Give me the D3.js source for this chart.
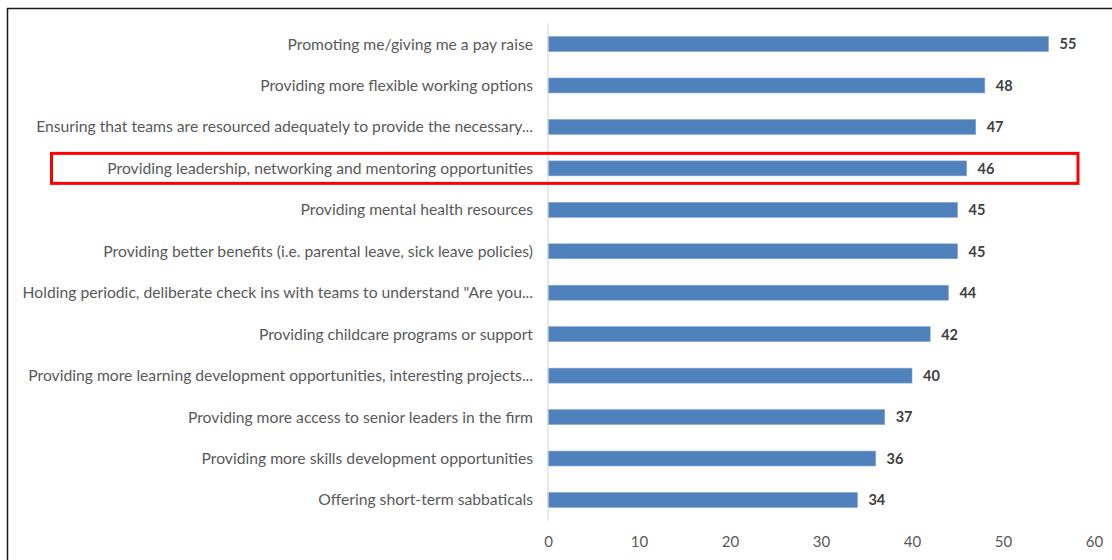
<!DOCTYPE html>
<html>
<head>
<meta charset="utf-8">
<script src="https://cdn.jsdelivr.net/npm/d3@7"></script>
<style>
  html, body { margin: 0; padding: 0; background: #fff; }
  svg { display: block; }
</style>
</head>
<body>
<svg id="chart" width="1112" height="560"></svg>
<script>
const categories = [
  "Promoting me/giving me a pay raise",
  "Providing more flexible working options",
  "Ensuring that teams are resourced adequately to provide the necessary...",
  "Providing leadership, networking and mentoring opportunities",
  "Providing mental health resources",
  "Providing better benefits (i.e. parental leave, sick leave policies)",
  "Holding periodic, deliberate check ins with teams to understand \"Are you...",
  "Providing childcare programs or support ",
  "Providing more learning development opportunities, interesting projects...",
  "Providing more access to senior leaders in the firm",
  "Providing more skills development opportunities",
  "Offering short-term sabbaticals"
];
const values = [55, 48, 47, 46, 45, 45, 44, 42, 40, 37, 36, 34];
const xTicks = [0, 10, 20, 30, 40, 50, 60];
const highlighted = "Providing leadership, networking and mentoring opportunities";

(function () {
const svg = d3.select("#chart");
const W = 1112, H = 560;
const pLeft = 548, pRight = 1094, pTop = 23.3, pBottom = 520.7;

// outer frame (left and top edges visible)
svg.append("line").attr("x1", 7.5).attr("x2", 7.5).attr("y1", 8).attr("y2", H)
  .attr("stroke", "#1a1a1a").attr("stroke-width", 1.5);
svg.append("line").attr("x1", 7).attr("x2", W).attr("y1", 8.5).attr("y2", 8.5)
  .attr("stroke", "#1a1a1a").attr("stroke-width", 1.5);

const x = d3.scaleLinear().domain([0, 60]).range([pLeft, pRight]);
const y = d3.scaleBand().domain(categories).range([pTop, pBottom]).paddingInner(0.64).paddingOuter(0.32);

const data = categories.map((c, i) => ({ cat: c, val: values[i] }));

// bars
svg.append("g").selectAll("rect").data(data).join("rect")
  .attr("x", x(0))
  .attr("y", d => y(d.cat))
  .attr("width", d => x(d.val) - x(0))
  .attr("height", y.bandwidth())
  .attr("fill", "#4F81BD")
  .attr("stroke", "#7fa2d0")
  .attr("stroke-width", 0.6);

// vertical axis line
svg.append("line").attr("x1", x(0)).attr("x2", x(0)).attr("y1", pTop).attr("y2", pBottom)
  .attr("stroke", "#D9D9D9").attr("stroke-width", 1.2);

const font = "Lato, 'Open Sans', sans-serif";

// category labels
svg.append("g").selectAll("text").data(data).join("text")
  .attr("x", x(0) - 15)
  .attr("y", d => y(d.cat) + y.bandwidth() / 2)
  .attr("dy", "0.35em")
  .attr("text-anchor", "end")
  .attr("font-family", font)
  .attr("font-size", 15.7)
  .attr("fill", "#595959")
  .text(d => d.cat);

// value labels
svg.append("g").selectAll("text").data(data).join("text")
  .attr("x", d => x(d.val) + 11)
  .attr("y", d => y(d.cat) + y.bandwidth() / 2)
  .attr("dy", "0.37em")
  .attr("font-family", font)
  .attr("font-size", 14.5)
  .attr("font-weight", "bold")
  .attr("fill", "#404040")
  .text(d => d.val);

// x axis tick labels
const xAxis = d3.axisBottom(x).tickValues(xTicks).tickSize(0).tickPadding(0);
const gx = svg.append("g").attr("transform", `translate(0,${pBottom + 16})`).call(xAxis);
gx.select(".domain").remove();
gx.selectAll("text")
  .attr("font-family", font)
  .attr("font-size", 15)
  .attr("fill", "#595959");

// highlight box
const hy = y(highlighted) + y.bandwidth() / 2;
svg.append("rect")
  .attr("x", 51.5)
  .attr("y", hy - 15)
  .attr("width", 1078 - 51.5)
  .attr("height", 30)
  .attr("fill", "none")
  .attr("stroke", "#FF0000")
  .attr("stroke-width", 3);
})();
</script>
</body>
</html>
